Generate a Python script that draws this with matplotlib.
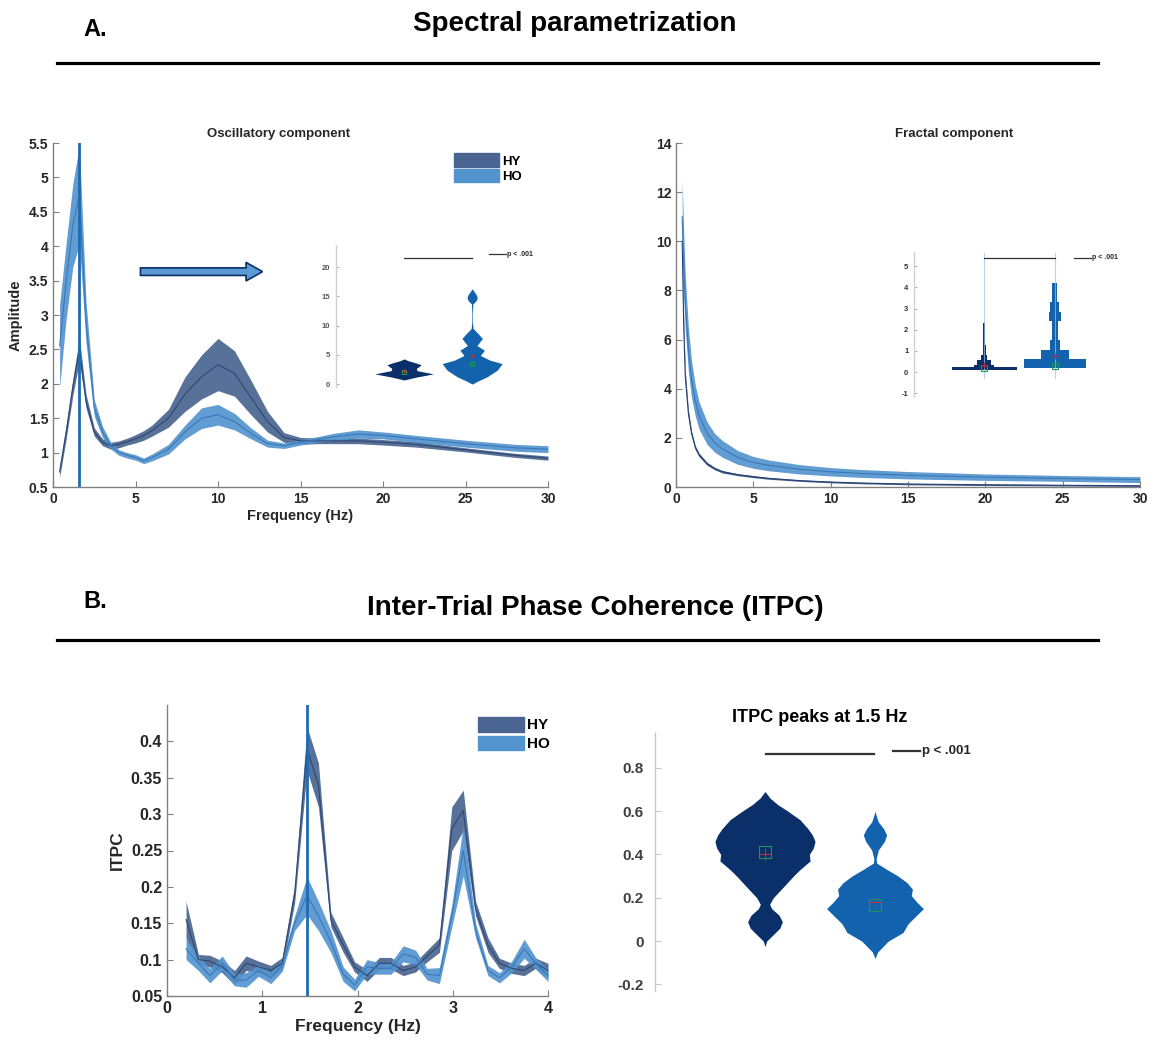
import numpy as np
import matplotlib.pyplot as plt
from matplotlib.patches import Patch, FancyArrow
from matplotlib.ticker import FormatStrFormatter

plt.rcParams['font.family'] = ['Liberation Sans', 'DejaVu Sans']
plt.rcParams['font.weight'] = 'bold'
plt.rcParams['axes.linewidth'] = 1.0
plt.rcParams['axes.unicode_minus'] = False

W, H = 1154, 1048

HY_FILL = '#4a6591'
HY_LINE = '#2e4872'
HO_FILL = '#5494ce'
HO_LINE = '#3a78b8'
VLINE = '#1f6bb3'
HY_VIO = '#0b2f68'
HO_VIO = '#1262ad'
SPINE = '#808080'
TXT = '#262626'

# ---------------- data: oscillatory component ----------------
osc_freq = [0.4, 0.8, 1.2, 1.6, 2.0, 2.5, 3.0, 3.5, 4.0, 4.5, 5.0, 5.5, 6.0, 7.0, 8.0, 9.0,
            10.0, 11.0, 12.0, 13.0, 14.0, 15.0, 16.0, 17.0, 18.5, 20.0, 22.0, 25.0, 28.0, 30.0]
osc_hy_mean = [0.72, 1.3, 1.95, 2.5, 1.75, 1.3, 1.15, 1.1, 1.12, 1.16, 1.2, 1.25, 1.32, 1.5, 1.85, 2.1,
               2.28, 2.15, 1.8, 1.45, 1.22, 1.17, 1.17, 1.17, 1.17, 1.15, 1.12, 1.04, 0.96, 0.92]
osc_hy_err = [0.08, 0.1, 0.12, 0.17, 0.1, 0.06, 0.05, 0.05, 0.05, 0.05, 0.06, 0.07, 0.08, 0.13, 0.25, 0.32,
              0.38, 0.33, 0.25, 0.15, 0.07, 0.05, 0.04, 0.04, 0.04, 0.04, 0.04, 0.03, 0.03, 0.03]
osc_ho_mean = [2.55, 3.5, 4.3, 4.75, 2.9, 1.65, 1.3, 1.1, 1.0, 0.96, 0.93, 0.88, 0.93, 1.05, 1.3, 1.5,
               1.55, 1.45, 1.28, 1.13, 1.1, 1.15, 1.19, 1.23, 1.27, 1.25, 1.2, 1.13, 1.07, 1.05]
osc_ho_err = [0.6, 0.55, 0.6, 0.72, 0.3, 0.12, 0.08, 0.05, 0.04, 0.04, 0.04, 0.04, 0.05, 0.07, 0.1, 0.15,
              0.15, 0.12, 0.08, 0.05, 0.04, 0.04, 0.04, 0.05, 0.06, 0.05, 0.05, 0.05, 0.05, 0.05]
osc_peak = 1.6

# ---------------- data: fractal component ----------------
frac_freq = [0.4, 0.5, 0.6, 0.8, 1.0, 1.25, 1.5, 2.0, 2.5, 3.0, 4.0, 5.0, 6.0, 8.0, 10.0, 12.0,
             15.0, 20.0, 25.0, 30.0]
frac_hy_mean = [10.0, 6.5, 4.5, 3.0, 2.2, 1.6, 1.3, 0.95, 0.75, 0.62, 0.5, 0.42, 0.35, 0.26, 0.2, 0.16,
                0.12, 0.09, 0.07, 0.05]
frac_hy_err = [0.5, 0.35, 0.25, 0.15, 0.1, 0.08, 0.07, 0.06, 0.05, 0.05, 0.04, 0.04, 0.035, 0.03, 0.03,
               0.03, 0.03, 0.03, 0.03, 0.03]
frac_ho_mean = [11.0, 9.0, 7.5, 5.6, 4.4, 3.5, 2.9, 2.2, 1.8, 1.55, 1.2, 1.0, 0.88, 0.72, 0.62, 0.55,
                0.48, 0.4, 0.35, 0.3]
frac_ho_err = [1.5, 1.3, 1.1, 0.9, 0.75, 0.62, 0.55, 0.46, 0.38, 0.34, 0.28, 0.24, 0.22, 0.19, 0.17, 0.16,
               0.15, 0.13, 0.12, 0.12]

# ---------------- data: ITPC spectrum ----------------
itpc_freq = [0.20, 0.33, 0.45, 0.58, 0.71, 0.83, 0.96, 1.09, 1.21, 1.34, 1.47, 1.59, 1.72, 1.85, 1.97, 2.10,
             2.23, 2.35, 2.48, 2.61, 2.73, 2.86, 2.99, 3.11, 3.24, 3.37, 3.49, 3.62, 3.75, 3.87, 4.00]
itpc_hy_mean = [0.155, 0.100, 0.098, 0.090, 0.075, 0.095, 0.090, 0.085, 0.095, 0.190, 0.390, 0.340, 0.155,
                0.120, 0.090, 0.078, 0.095, 0.095, 0.085, 0.090, 0.105, 0.120, 0.280, 0.305, 0.170, 0.120,
                0.095, 0.088, 0.085, 0.095, 0.085]
itpc_hy_err = [0.025, 0.007, 0.008, 0.008, 0.010, 0.010, 0.008, 0.007, 0.008, 0.012, 0.030, 0.030, 0.010,
               0.010, 0.007, 0.008, 0.008, 0.008, 0.007, 0.007, 0.008, 0.010, 0.030, 0.028, 0.010, 0.010,
               0.007, 0.007, 0.007, 0.007, 0.010]
itpc_ho_mean = [0.115, 0.095, 0.078, 0.095, 0.072, 0.072, 0.085, 0.075, 0.092, 0.150, 0.188, 0.160, 0.125,
                0.080, 0.065, 0.090, 0.088, 0.088, 0.108, 0.103, 0.080, 0.078, 0.160, 0.250, 0.140, 0.085,
                0.075, 0.090, 0.115, 0.095, 0.078]
itpc_ho_err = [0.015, 0.010, 0.010, 0.010, 0.008, 0.010, 0.008, 0.008, 0.008, 0.010, 0.026, 0.020, 0.015,
               0.010, 0.008, 0.010, 0.008, 0.008, 0.011, 0.010, 0.008, 0.011, 0.015, 0.035, 0.010, 0.007,
               0.007, 0.008, 0.013, 0.008, 0.008]
itpc_peak = 1.47

# ---------------- data: ITPC violin (peak at 1.5 Hz) ----------------
vio_hy_y = [-0.025, 0.0, 0.03, 0.06, 0.09, 0.12, 0.15, 0.17, 0.2, 0.25, 0.3, 0.33, 0.37, 0.4, 0.43, 0.46,
            0.49, 0.52, 0.56, 0.6, 0.63, 0.66, 0.69]
vio_hy_w = [0.0, 0.015, 0.075, 0.135, 0.158, 0.127, 0.06, 0.042, 0.075, 0.167, 0.258, 0.318, 0.41, 0.403,
            0.44, 0.455, 0.43, 0.388, 0.318, 0.206, 0.115, 0.045, 0.0]
vio_ho_y = [-0.08, -0.05, 0.0, 0.04, 0.08, 0.12, 0.15, 0.18, 0.21, 0.24, 0.27, 0.3, 0.33, 0.36, 0.38, 0.42,
            0.46, 0.49, 0.52, 0.55, 0.58, 0.6]
vio_ho_w = [0.0, 0.024, 0.12, 0.255, 0.3, 0.38, 0.44, 0.38, 0.33, 0.34, 0.29, 0.21, 0.11, 0.015, 0.01,
            0.03, 0.085, 0.106, 0.076, 0.03, 0.01, 0.0]
vio_median = [0.41, 0.165]
vio_mean = [0.40, 0.18]

# ---------------- data: oscillatory inset violin ----------------
ins1_hy_y = [0.7, 1.2, 1.5, 1.75, 2.0, 2.3, 2.7, 3.0, 3.3, 3.6, 4.0, 4.3]
ins1_hy_w = [0.0, 0.18, 0.32, 0.43, 0.32, 0.19, 0.18, 0.22, 0.25, 0.18, 0.06, 0.0]
ins1_ho_y = [0.0, 0.5, 1.25, 2.4, 3.5, 4.1, 4.9, 5.8, 6.6, 7.8, 8.6, 9.5, 10.5, 12.0, 13.7, 14.3, 14.8,
             15.3, 16.3]
ins1_ho_w = [0.0, 0.08, 0.22, 0.37, 0.44, 0.26, 0.12, 0.18, 0.07, 0.15, 0.09, 0.015, 0.005, 0.004, 0.01,
             0.06, 0.075, 0.06, 0.0]
ins1_median = [2.1, 3.5]
ins1_mean = [2.2, 4.8]

# ---------------- data: fractal inset (stepped violin) ----------------
ins2_hy_edges = [0.1, 0.25, 0.35, 0.55, 0.8, 1.3, 2.3]
ins2_hy_w = [0.46, 0.14, 0.1, 0.045, 0.022, 0.014]
ins2_ho_edges = [0.2, 0.6, 1.05, 1.5, 2.4, 2.85, 3.3, 4.2]
ins2_ho_w = [0.44, 0.2, 0.07, 0.045, 0.085, 0.06, 0.035]
ins2_range = [(-0.3, 5.6), (-0.3, 5.6)]
ins2_median = [0.2, 0.28]
ins2_mean = [0.35, 0.75]

fig = plt.figure(figsize=(W / 100, H / 100), dpi=100)


def px_axes(l, t, r, b):
    return fig.add_axes([l / W, 1 - b / H, (r - l) / W, (b - t) / H])


def style(ax, size):
    ax.spines['top'].set_visible(False)
    ax.spines['right'].set_visible(False)
    for s in ('left', 'bottom'):
        ax.spines[s].set_color(SPINE)
    ax.tick_params(direction='in', colors=SPINE, labelcolor=TXT, labelsize=size, length=4)


def band(ax, x, m, e, fill, line):
    x = np.array(x)
    m = np.array(m)
    e = np.array(e)
    ax.fill_between(x, m - e, m + e, color=fill, alpha=0.92, lw=0)
    ax.plot(x, m, color=line, lw=0.8)


def violin(ax, pos, y, w, color):
    y = np.array(y)
    w = np.array(w)
    ax.fill_betweenx(y, pos - w, pos + w, color=color, lw=0)


def pvalue(ax, x0, x1, y_sig, xp0, xp1, y_p, size, lw):
    ax.plot([x0, x1], [y_sig, y_sig], color='#333333', lw=lw)
    ax.plot([xp0, xp1], [y_p, y_p], color='#333333', lw=lw)
    ax.text(xp1 + 0.02, y_p, 'p < .001', fontsize=size, fontweight='bold', color=TXT, va='center', ha='left')


def centre_marks(ax, med, mean, ms):
    ax.plot([1, 2], med, ls='none', marker='s', ms=ms, mfc='none', mec='#1a9a50', mew=0.8)
    ax.plot([1, 2], mean, ls='none', marker='+', ms=ms, color='#c03040', mew=0.8)


# ---------------- headers ----------------
fig.text(83 / W, 1 - 30 / H, 'A.', fontsize=17, fontweight='bold', va='center')
fig.text(575 / W, 1 - 24 / H, 'Spectral parametrization', fontsize=20, fontweight='bold', ha='center', va='center')
fig.add_artist(plt.Line2D([57 / W, 1098 / W], [1 - 63 / H, 1 - 63 / H], color='black', lw=2.3))
fig.text(83 / W, 1 - 601 / H, 'B.', fontsize=17, fontweight='bold', va='center')
fig.text(595 / W, 1 - 608 / H, 'Inter-Trial Phase Coherence (ITPC)', fontsize=20, fontweight='bold',
         ha='center', va='center')
fig.add_artist(plt.Line2D([57 / W, 1098 / W], [1 - 640 / H, 1 - 640 / H], color='black', lw=2.3))

# ---------------- oscillatory component ----------------
ax1 = px_axes(53, 143, 548, 487)
band(ax1, osc_freq, osc_hy_mean, osc_hy_err, HY_FILL, HY_LINE)
band(ax1, osc_freq, osc_ho_mean, osc_ho_err, HO_FILL, HO_LINE)
ax1.axvline(osc_peak, color=VLINE, lw=2)
ax1.set_xlim(0, 30)
ax1.set_ylim(0.5, 5.5)
ax1.set_xticks(np.arange(0, 31, 5))
ax1.set_yticks(np.arange(0.5, 5.6, 0.5))
ax1.yaxis.set_major_formatter(FormatStrFormatter('%g'))
style(ax1, 10)
ax1.set_xlabel('Frequency (Hz)', fontsize=10.5, fontweight='bold', color=TXT, labelpad=2)
ax1.set_ylabel('Amplitude', fontsize=10.5, fontweight='bold', color=TXT, labelpad=4)
ax1.set_title('Oscillatory component', fontsize=9.5, fontweight='bold', color=TXT, x=0.455, pad=4)
ax1.legend(handles=[Patch(color=HY_FILL, label='HY'), Patch(color=HO_FILL, label='HO')],
           loc='upper left', bbox_to_anchor=(0.8, 0.985), frameon=False, fontsize=9.5,
           handlelength=3.4, handleheight=1.2, labelspacing=0.1, handletextpad=0.2, borderaxespad=0)
ax1.add_patch(FancyArrow(5.3, 3.63, 6.4, 0, width=0.11, head_width=0.27, head_length=1.0,
                         length_includes_head=False, fc='#5b9bd5', ec='#0b2f68', lw=1.2))

# inset violin in oscillatory panel
ia = px_axes(336, 245, 545, 387)
ia.patch.set_alpha(0)
violin(ia, 1, ins1_hy_y, ins1_hy_w, HY_VIO)
violin(ia, 2, ins1_ho_y, ins1_ho_w, HO_VIO)
centre_marks(ia, ins1_median, ins1_mean, 3)
pvalue(ia, 1, 2, 21.6, 2.25, 2.49, 22.2, 5, 0.9)
ia.set_xlim(0, 3.07)
ia.set_ylim(-0.5, 23.8)
ia.set_yticks([0, 5, 10, 15, 20])
style(ia, 5.5)
ia.spines['bottom'].set_visible(False)
ia.spines['left'].set_color('#d0d0d0')
ia.tick_params(axis='y', length=2, colors='#b0b0b0', labelcolor='#555555', pad=4)
ia.set_xticks([])

# ---------------- fractal component ----------------
ax2 = px_axes(676, 143, 1140, 487)
band(ax2, frac_freq, frac_hy_mean, frac_hy_err, '#3a5486', '#243f70')
band(ax2, frac_freq, frac_ho_mean, frac_ho_err, HO_FILL, HO_LINE)
ax2.set_xlim(0, 30)
ax2.set_ylim(0, 14)
ax2.set_xticks(np.arange(0, 31, 5))
ax2.set_yticks(np.arange(0, 15, 2))
style(ax2, 10)
ax2.set_title('Fractal component', fontsize=9.5, fontweight='bold', color=TXT, x=0.6, pad=4)

# stepped inset in fractal panel
ib = px_axes(914, 252, 1125, 397)
ib.patch.set_alpha(0)
for pos, (lo, hi) in zip([1, 2], ins2_range):
    ib.plot([pos, pos], [lo, hi], color='#9cc3e6', lw=0.8, alpha=0.7)
for pos, edges, widths, col in [(1, ins2_hy_edges, ins2_hy_w, HY_VIO), (2, ins2_ho_edges, ins2_ho_w, HO_VIO)]:
    edges = np.array(edges)
    widths = np.array(widths)
    ib.barh(edges[:-1], 2 * widths, left=pos - widths, height=np.diff(edges), align='edge', color=col, lw=0)
centre_marks(ib, ins2_median, ins2_mean, 4)
pvalue(ib, 1, 2, 5.4, 2.27, 2.51, 5.4, 5, 0.9)
ib.set_xlim(0, 3.0)
ib.set_ylim(-1.18, 5.67)
ib.set_yticks(np.arange(-1, 6, 1))
style(ib, 5.5)
ib.spines['bottom'].set_visible(False)
ib.spines['left'].set_color('#d0d0d0')
ib.tick_params(axis='y', length=2, colors='#b0b0b0', labelcolor='#333333', pad=4)
ib.set_xticks([])

# ---------------- ITPC spectrum ----------------
ax3 = px_axes(167, 705, 548, 996)
band(ax3, itpc_freq, itpc_hy_mean, itpc_hy_err, HY_FILL, HY_LINE)
band(ax3, itpc_freq, itpc_ho_mean, itpc_ho_err, HO_FILL, HO_LINE)
ax3.axvline(itpc_peak, color=VLINE, lw=2)
ax3.set_xlim(0, 4)
ax3.set_ylim(0.05, 0.45)
ax3.set_xticks([0, 1, 2, 3, 4])
ax3.set_yticks(np.arange(0.05, 0.41, 0.05))
ax3.yaxis.set_major_formatter(FormatStrFormatter('%g'))
style(ax3, 11.5)
ax3.set_xlabel('Frequency (Hz)', fontsize=12.5, fontweight='bold', color=TXT, labelpad=2)
ax3.set_ylabel('ITPC', fontsize=12.5, fontweight='bold', color=TXT, labelpad=4)
ax3.legend(handles=[Patch(color=HY_FILL, label='HY'), Patch(color=HO_FILL, label='HO')],
           loc='upper left', bbox_to_anchor=(0.8, 0.98), frameon=False, fontsize=11,
           handlelength=3.0, handleheight=1.1, labelspacing=0.2, handletextpad=0.2, borderaxespad=0)

# ---------------- ITPC violin ----------------
ax4 = px_axes(655, 733, 985, 991)
violin(ax4, 1, vio_hy_y, vio_hy_w, HY_VIO)
violin(ax4, 2, vio_ho_y, vio_ho_w, HO_VIO)
centre_marks(ax4, vio_median, vio_mean, 8)
pvalue(ax4, 1.01, 1.99, 0.865, 2.16, 2.41, 0.875, 9.5, 1.6)
ax4.set_xlim(0, 3)
ax4.set_ylim(-0.23, 0.96)
ax4.set_yticks([-0.2, 0, 0.2, 0.4, 0.6, 0.8])
ax4.yaxis.set_major_formatter(FormatStrFormatter('%g'))
style(ax4, 11)
ax4.spines['bottom'].set_visible(False)
ax4.spines['left'].set_color('#c8c8c8')
ax4.set_xticks([])
ax4.tick_params(axis='y', colors='#c8c8c8', labelcolor='#404040', pad=8)
ax4.set_title('ITPC peaks at 1.5 Hz', fontsize=13, fontweight='bold', color='black', pad=8)

fig.savefig('out.png', dpi=100)
